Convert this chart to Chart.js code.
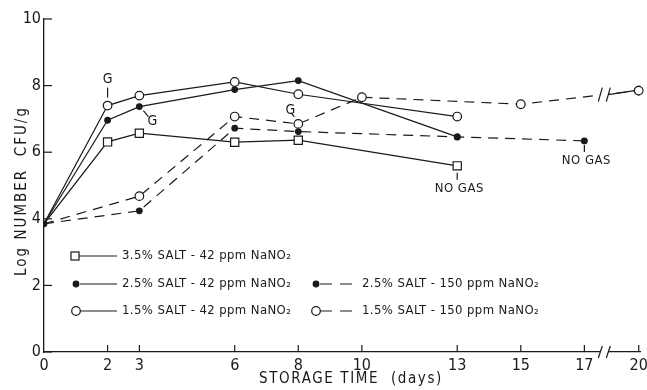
<!DOCTYPE html>
<html>
<head>
<meta charset="utf-8">
<script src="https://cdn.jsdelivr.net/npm/chart.js@4.4.1/dist/chart.umd.min.js"></script>
<style>
  html, body { margin: 0; padding: 0; background: #fff; }
  #contenitore { width: 647px; height: 390px; }
</style>
</head>
<body>
<div id="contenitore"><canvas id="grafico"></canvas></div>
<script>
// Giorni di conservazione e log CFU/g
const giorni_42 = [0, 2, 3, 6, 8, 13];
const sale35_42 = [3.85, 6.31, 6.57, 6.30, 6.36, 5.59];
const sale25_42 = [3.85, 6.96, 7.37, 7.88, 8.15, 6.46];
const sale15_42 = [3.85, 7.40, 7.70, 8.11, 7.74, 7.07];
const giorni_25_150 = [0, 3, 6, 8, 13, 17];
const sale25_150 = [3.85, 4.24, 6.72, 6.62, 6.46, 6.34];
const giorni_15_150 = [0, 3, 6, 8, 10, 15, 20];
const sale15_150 = [3.85, 4.68, 7.07, 6.85, 7.65, 7.44, 7.85];
// Etichette degli assi
const tick_giorni = [0, 2, 3, 6, 8, 10, 13, 15, 17, 20];
const tick_log = [0, 2, 4, 6, 8, 10];
const etichette = [
  '3.5% SALT - 42 ppm NaNO₂',
  '2.5% SALT - 42 ppm NaNO₂',
  '1.5% SALT - 42 ppm NaNO₂',
  '2.5% SALT - 150 ppm NaNO₂',
  '1.5% SALT - 150 ppm NaNO₂'
];
const titolo_x = 'STORAGE TIME  (days)';
const titolo_y = 'Log NUMBER  CFU/g';

// L'asse x e' interrotto dopo il giorno 17: oltre, i giorni sono compressi
const INTERRUZIONE = 17;
const COMPRESSIONE = 0.57;
function posizione(giorno) {
  return giorno <= INTERRUZIONE ? giorno : INTERRUZIONE + (giorno - INTERRUZIONE) * COMPRESSIONE;
}
function punti(giorni, valori) {
  return giorni.map((g, i) => ({ x: posizione(g), y: valori[i] }));
}

const FONT = "'DejaVu Sans Condensed', 'Liberation Sans Narrow', 'DejaVu Sans', sans-serif";
const NERO = '#1a1a1a';
const R_PIENO = 2.8, R_VUOTO = 4.3, R_QUADRO = 5.8;

// Stile comune delle serie
function serie(label, dati, stile, tratteggio, raggio, pieno, primoVisibile) {
  return {
    label: label,
    data: dati,
    borderColor: NERO,
    borderWidth: 1.2,
    borderDash: tratteggio,
    pointStyle: stile,
    pointRadius: ctx => (ctx.dataIndex === 0 && !primoVisibile) ? 0 : raggio,
    pointBackgroundColor: pieno ? NERO : '#fff',
    pointBorderColor: NERO,
    pointBorderWidth: 1.2,
    tension: 0,
    fill: false
  };
}

const datasets = [
  serie(etichette[0], punti(giorni_42, sale35_42), 'rect', [], R_QUADRO, false, false),
  serie(etichette[1], punti(giorni_42, sale25_42), 'circle', [], R_PIENO, true, true),
  serie(etichette[2], punti(giorni_42, sale15_42), 'circle', [], R_VUOTO, false, false),
  serie(etichette[3], punti(giorni_25_150, sale25_150), 'circle', [10, 7], R_PIENO, true, false),
  serie(etichette[4], punti(giorni_15_150, sale15_150), 'circle', [10, 7], R_VUOTO, false, false)
];

// Plugin per tacche interne, interruzione dell'asse, legenda, titoli e note
const decorazioni = {
  id: 'decorazioni',
  afterDatasetsDraw(chart) {
    const ctx = chart.ctx;
    const sx = chart.scales.x, sy = chart.scales.y;
    const area = chart.chartArea;
    ctx.save();
    ctx.strokeStyle = NERO;
    ctx.fillStyle = NERO;
    ctx.lineWidth = 1.2;

    // tacche dell'asse y verso l'interno
    tick_log.forEach(v => {
      const y = sy.getPixelForValue(v);
      ctx.beginPath(); ctx.moveTo(area.left, y); ctx.lineTo(area.left + 8, y); ctx.stroke();
    });
    // tacche dell'asse x verso l'alto
    tick_giorni.forEach(g => {
      if (g === 0) return;
      const x = sx.getPixelForValue(posizione(g));
      ctx.beginPath(); ctx.moveTo(x, area.bottom); ctx.lineTo(x, area.bottom - 7); ctx.stroke();
    });

    // interruzione dell'asse x e della serie 1.5% - 150 ppm
    const xr = sx.getPixelForValue(posizione(18.1));
    const meta = chart.getDatasetMeta(4).data;
    const p1 = meta[meta.length - 2], p2 = meta[meta.length - 1];
    const yl = p1.y + (p2.y - p1.y) * (xr - p1.x) / (p2.x - p1.x);
    [[area.bottom, 6], [yl, 7]].forEach(([y, h]) => {
      ctx.fillStyle = '#fff';
      ctx.fillRect(xr - 4, y - 2, 8, 4);
      ctx.fillStyle = NERO;
      [-4, 4].forEach(d => {
        ctx.beginPath();
        ctx.moveTo(xr + d - 2, y + h);
        ctx.lineTo(xr + d + 2, y - h);
        ctx.stroke();
      });
    });
    // tratto pieno tra l'interruzione e l'ultimo punto
    ctx.beginPath(); ctx.moveTo(xr + 4, yl); ctx.lineTo(p2.x - R_VUOTO, p2.y); ctx.stroke();
    ctx.beginPath(); ctx.arc(p2.x, p2.y, R_VUOTO, 0, Math.PI * 2);
    ctx.fillStyle = '#fff'; ctx.fill(); ctx.stroke();
    ctx.fillStyle = NERO;

    // legenda disegnata a mano
    ctx.font = '13px ' + FONT;
    ctx.letterSpacing = '0.4px';
    ctx.textBaseline = 'middle';
    const righe = [
      { ds: 0, x: 75, y: 256, fine: 117, testo: 122 },
      { ds: 1, x: 76, y: 284, fine: 117, testo: 122 },
      { ds: 2, x: 76, y: 311, fine: 117, testo: 122 },
      { ds: 3, x: 316, y: 284, fine: 353, testo: 362 },
      { ds: 4, x: 316, y: 311, fine: 353, testo: 362 }
    ];
    righe.forEach(r => {
      const d = datasets[r.ds];
      ctx.setLineDash(d.borderDash.length ? [12, 8] : []);
      ctx.beginPath(); ctx.moveTo(r.x + 4, r.y); ctx.lineTo(r.fine, r.y); ctx.stroke();
      ctx.setLineDash([]);
      if (d.pointStyle === 'rect') {
        ctx.fillStyle = '#fff';
        ctx.fillRect(r.x - 4, r.y - 4, 8, 8);
        ctx.strokeRect(r.x - 4, r.y - 4, 8, 8);
      } else {
        const raggio = d.pointBackgroundColor === NERO ? R_PIENO : R_VUOTO;
        ctx.fillStyle = d.pointBackgroundColor;
        ctx.beginPath(); ctx.arc(r.x, r.y, raggio, 0, Math.PI * 2); ctx.fill(); ctx.stroke();
      }
      ctx.fillStyle = NERO;
      ctx.fillText(etichette[r.ds], r.testo, r.y);
    });

    // note "G" (gas) e "NO GAS"
    const punto = (ds, i) => chart.getDatasetMeta(ds).data[i];
    ctx.font = '14px ' + FONT;
    ctx.letterSpacing = '0px';
    ctx.textAlign = 'center';
    let p = punto(2, 1);
    ctx.beginPath(); ctx.moveTo(p.x, p.y - 8); ctx.lineTo(p.x, p.y - 18); ctx.stroke();
    ctx.fillText('G', p.x, p.y - 26);
    p = punto(1, 2);
    ctx.beginPath(); ctx.moveTo(p.x + 4, p.y + 4); ctx.lineTo(p.x + 9, p.y + 10); ctx.stroke();
    ctx.fillText('G', p.x + 13, p.y + 15);
    p = punto(4, 3);
    ctx.beginPath(); ctx.moveTo(p.x - 4, p.y - 7); ctx.lineTo(p.x - 7, p.y - 11); ctx.stroke();
    ctx.fillText('G', p.x - 8, p.y - 14);
    ctx.font = '13px ' + FONT;
    ctx.letterSpacing = '0.5px';
    [punto(0, 5), punto(3, 5)].forEach((q, k) => {
      const off = k === 0 ? 7 : 4;
      ctx.beginPath(); ctx.moveTo(q.x, q.y + off); ctx.lineTo(q.x, q.y + off + 7); ctx.stroke();
      ctx.fillText('NO GAS', q.x + 2, q.y + off + 16);
    });

    // titoli degli assi con spaziatura delle lettere
    ctx.font = '15px ' + FONT;
    ctx.letterSpacing = '1.6px';
    ctx.fillText(titolo_x, 351, 379);
    ctx.translate(22, 191);
    ctx.rotate(-Math.PI / 2);
    ctx.letterSpacing = '2px';
    ctx.fillText(titolo_y, 0, 0);
    ctx.restore();
  }
};

new Chart(document.getElementById('grafico'), {
  type: 'line',
  data: { datasets: datasets },
  options: {
    responsive: true,
    maintainAspectRatio: false,
    animation: false,
    layout: { padding: { top: 19, right: 7, left: 0, bottom: 0 } },
    plugins: { legend: { display: false }, tooltip: { enabled: false } },
    scales: {
      x: {
        type: 'linear',
        min: 0,
        max: 18.75,
        afterBuildTicks: scala => { scala.ticks = tick_giorni.map(g => ({ value: posizione(g) })); },
        afterFit: scala => { scala.height = 38; scala.paddingRight = 0; scala.paddingLeft = 0; },
        ticks: {
          autoSkip: false,
          maxRotation: 0,
          padding: 4,
          color: NERO,
          font: { family: FONT, size: 16 },
          callback: (v, i) => String(tick_giorni[i])
        },
        grid: { display: false, tickLength: 0 },
        border: { display: true, color: NERO, width: 1.3 }
      },
      y: {
        min: 0,
        max: 10,
        afterBuildTicks: scala => { scala.ticks = tick_log.map(v => ({ value: v })); },
        afterFit: scala => { scala.width = 44; },
        ticks: {
          padding: 3,
          color: NERO,
          font: { family: FONT, size: 16 }
        },
        grid: { display: false, tickLength: 0 },
        border: { display: true, color: NERO, width: 1.3 }
      }
    }
  },
  plugins: [decorazioni]
});
</script>
</body>
</html>
